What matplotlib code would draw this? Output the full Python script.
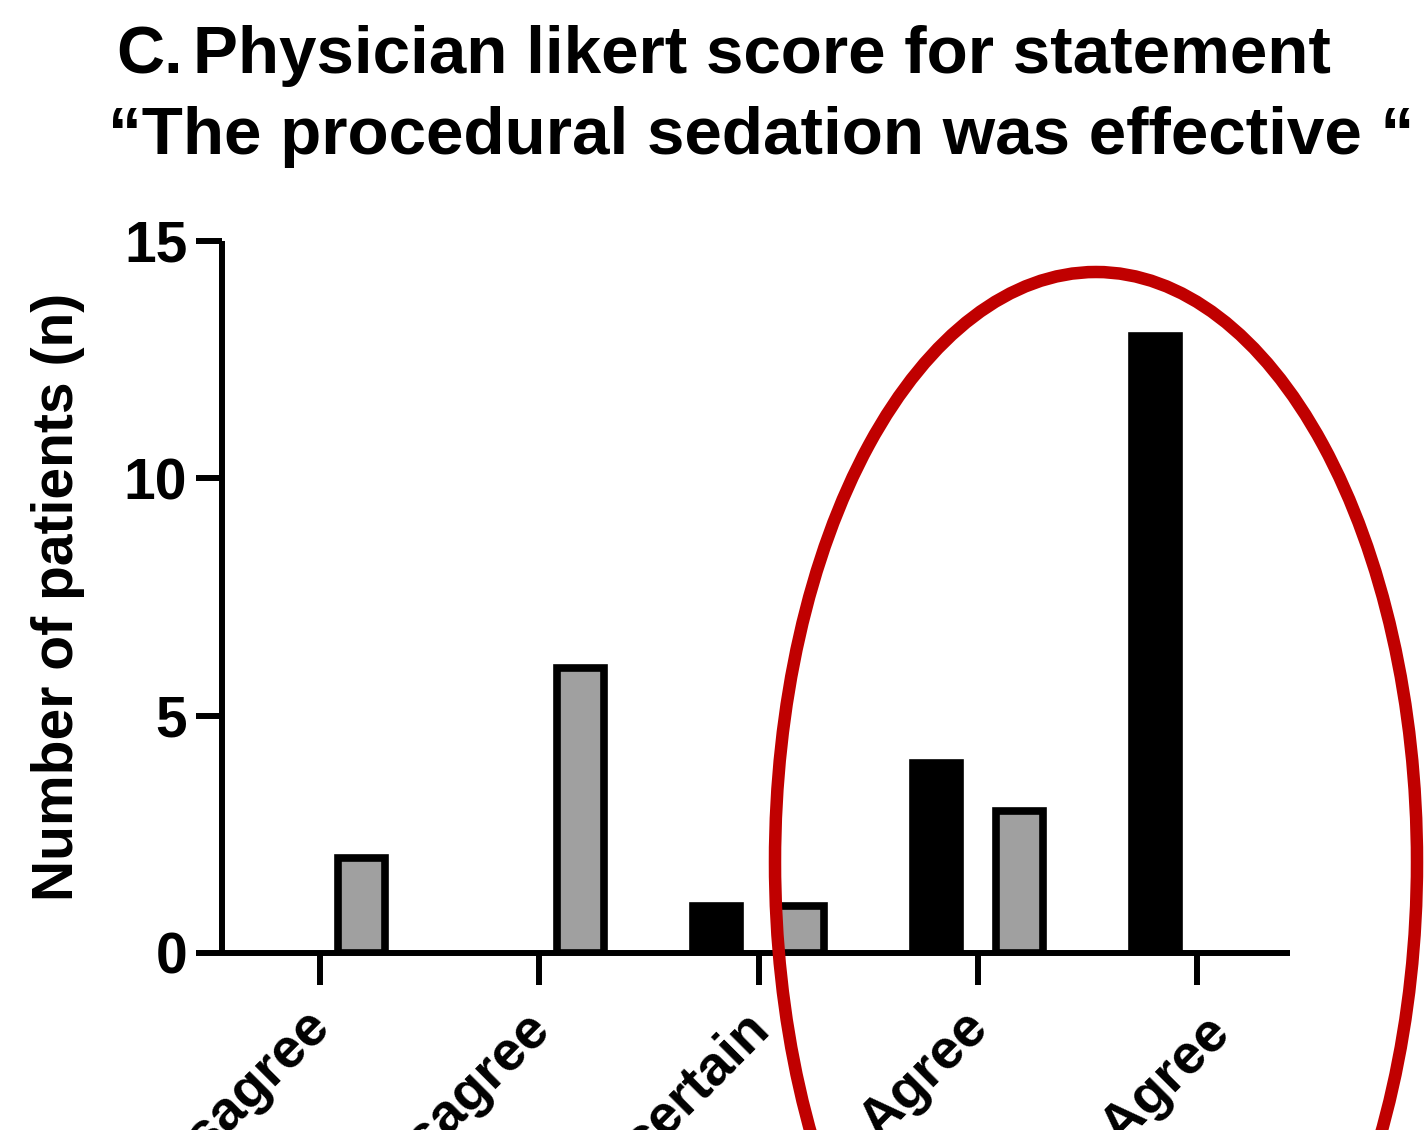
import matplotlib
matplotlib.use("Agg")
import matplotlib.pyplot as plt
from matplotlib.patches import Ellipse
from matplotlib.transforms import ScaledTranslation
import numpy as np

categories = ["Strongly Disagree", "Disagree", "Uncertain", "Agree", "Strongly Agree"]
series_black = [0, 0, 1, 4, 13]
series_gray = [2, 6, 1, 3, 0]
y_ticks = [0, 5, 10, 15]

plt.rcParams['font.family'] = ['Liberation Sans', 'DejaVu Sans']
plt.rcParams['font.weight'] = 'bold'

W, H = 1425, 1130
fig = plt.figure(figsize=(W / 100, H / 100), dpi=100)
fig.patch.set_facecolor("white")

def fx(px):
    return px / W

def fy(py):
    return 1 - py / H

ax = fig.add_axes([fx(222), fy(953), fx(1290) - fx(222), fy(241) - fy(953)])

x = np.arange(len(categories))
off = 0.19
bw = 0.215
lw_black = [5.5 if v > 0 else 0 for v in series_black]
lw_gray = [5.5 if v > 0 else 0 for v in series_gray]
ax.bar(x - off, series_black, width=bw, color="black", edgecolor="black", linewidth=lw_black, zorder=3)
ax.bar(x + off, series_gray, width=bw, color="#a0a0a0", edgecolor="black", linewidth=lw_gray, zorder=3)

ax.set_xlim(-0.447, 4.424)
ax.set_ylim(0, 15)
ax.set_yticks(y_ticks)
ax.set_yticklabels([str(v) for v in y_ticks], fontsize=41, fontweight="bold")
ax.set_xticks(x)
ax.set_xticklabels(categories, rotation=45, ha="right", rotation_mode="anchor",
                   fontsize=40, fontweight="bold")
ax.tick_params(axis="y", length=19, width=4.3, pad=6)
ax.tick_params(axis="x", length=23, width=4.3, pad=12)
label_shift = [(-16, 0), (-16, 0), (-16, 0), (-16, 0), (7, -6)]
for lab, (dx, dy) in zip(ax.get_xticklabels(), label_shift):
    lab.set_transform(lab.get_transform() + ScaledTranslation(dx / 100, dy / 100, fig.dpi_scale_trans))
for s in ["top", "right"]:
    ax.spines[s].set_visible(False)
for s in ["left", "bottom"]:
    ax.spines[s].set_linewidth(4.3)
    ax.spines[s].set_capstyle("butt")
ax.set_ylabel("Number of patients (n)", fontsize=41, fontweight="bold", labelpad=28)

fig.text(fx(116), fy(73), "C.", fontsize=48, fontweight="bold", va="baseline", ha="left")
fig.text(fx(193), fy(73), "Physician likert score for statement", fontsize=48.5,
         fontweight="bold", va="baseline", ha="left")
fig.text(fx(108), fy(154), "\u201cThe procedural sedation was effective \u201c", fontsize=48.5,
         fontweight="bold", va="baseline", ha="left")

ell = Ellipse((fx(1096), fy(862)), width=fx(642), height=1180 / H, transform=fig.transFigure,
              fill=False, edgecolor="#c00000", linewidth=9, zorder=10)
fig.patches.append(ell)

fig.savefig("out.png", dpi=100)
